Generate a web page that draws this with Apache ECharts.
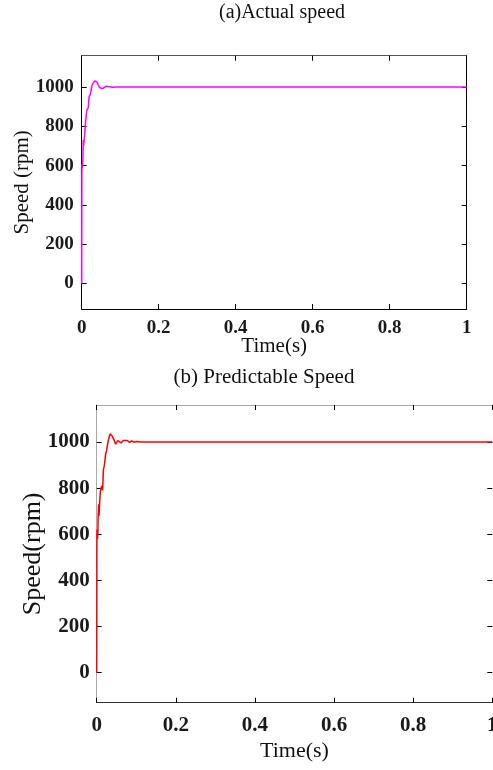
<!DOCTYPE html>
<html>
<head>
<meta charset="utf-8">
<script src="https://cdn.jsdelivr.net/npm/echarts@6/dist/echarts.min.js"></script>
<style>html,body{margin:0;padding:0;background:#fff;}#c{width:493px;height:770px;}</style>
</head>
<body>
<div id="c"></div>
<script>
// Panel (a): actual speed
var timeA  = [0, 0.0005, 0.001, 0.002, 0.003, 0.0035, 0.004, 0.005, 0.006, 0.008, 0.009, 0.010, 0.011, 0.013, 0.015, 0.017, 0.019, 0.021, 0.023, 0.026, 0.028, 0.031, 0.034, 0.037, 0.040, 0.043, 0.046, 0.050, 0.054, 0.058, 0.063, 0.068, 0.073, 0.080, 0.090, 1.0];
var speedA = [0, 560, 610, 590, 620, 670, 730, 700, 720, 760, 800, 790, 800, 880, 890, 895, 950, 960, 965, 1000, 1015, 1020, 1032, 1032, 1025, 1010, 998, 991, 992, 999, 1004, 1005, 1002, 999, 1000, 1000];
// Panel (b): predictable speed
var timeB  = [0, 0.0005, 0.001, 0.002, 0.003, 0.0035, 0.005, 0.006, 0.007, 0.009, 0.011, 0.013, 0.015, 0.017, 0.019, 0.021, 0.023, 0.025, 0.027, 0.029, 0.031, 0.034, 0.036, 0.039, 0.041, 0.044, 0.048, 0.053, 0.057, 0.0615, 0.0675, 0.0715, 0.0775, 0.083, 0.0885, 0.0945, 0.101, 0.110, 1.0];
var speedB = [0, 570, 620, 580, 610, 670, 730, 680, 720, 780, 800, 810, 790, 880, 895, 890, 950, 962, 960, 1005, 1012, 1035, 1033, 1026, 1028, 1008, 990, 1006, 1013, 996, 1006, 998, 1006, 998, 1004, 999, 1002, 1000, 1000];
// Axes
var xTicks = [0, 0.2, 0.4, 0.6, 0.8, 1];
var yTicks = [0, 200, 400, 600, 800, 1000];
var titleA = '(a)Actual speed';
var titleB = '(b) Predictable Speed';
var xName = 'Time(s)';
var yNameA = 'Speed (rpm)';
var yNameB = 'Speed(rpm)';

function pairs(t, v){ return t.map(function(x,i){ return [x, v[i]]; }); }
var serif = 'Liberation Serif';
function xFmt(v){ return (v === 0 || v === 1) ? String(v) : v.toFixed(1); }
function yFmt(v){ return String(v); }

function xAxisMain(grid, fs, lineColor, margin, nameGap, nameSize){
  return {
    type:'value', gridIndex:grid, position:'bottom', min:0, max:1, interval:0.2,
    name:xName, nameLocation:'middle', nameGap:nameGap, nameMoveOverlap:false,
    nameTextStyle:{fontFamily:serif, fontSize:nameSize, color:'#111'},
    axisLine:{show:true, onZero:false, lineStyle:{color:lineColor, width:1}},
    axisTick:{show:true, inside:true, length:5, lineStyle:{color:'#000'}},
    axisLabel:{fontFamily:serif, fontWeight:'bold', fontSize:fs, color:'#1a1a1a', margin:margin, formatter:xFmt},
    splitLine:{show:false}
  };
}
function xAxisTop(grid, lineColor){
  return {
    type:'value', gridIndex:grid, position:'top', min:0, max:1, interval:0.2,
    axisLine:{show:true, onZero:false, lineStyle:{color:lineColor, width:1}},
    axisTick:{show:true, inside:true, length:5, lineStyle:{color:'#000'}},
    axisLabel:{show:false}, splitLine:{show:false}
  };
}
function yAxisMain(grid, fs, lineColor, margin, name, nameGap, nameSize){
  return {
    type:'value', gridIndex:grid, position:'left', min:-130, max:1160,
    name:name, nameLocation:'middle', nameGap:nameGap, nameMoveOverlap:false,
    nameTextStyle:{fontFamily:serif, fontSize:nameSize, color:'#111'},
    axisLine:{show:true, onZero:false, lineStyle:{color:lineColor, width:1}},
    axisTick:{show:true, inside:true, length:5, customValues:yTicks, lineStyle:{color:'#000'}},
    axisLabel:{fontFamily:serif, fontWeight:'bold', fontSize:fs, color:'#1a1a1a', margin:margin, customValues:yTicks, formatter:yFmt},
    splitLine:{show:false}
  };
}
function yAxisRight(grid, showLine){
  return {
    type:'value', gridIndex:grid, position:'right', min:-130, max:1160,
    axisLine:{show:showLine, onZero:false, lineStyle:{color:'#000', width:1}},
    axisTick:{show:true, inside:true, length:5, customValues:yTicks, lineStyle:{color:'#000'}},
    axisLabel:{show:false, customValues:yTicks}, splitLine:{show:false}
  };
}

var chart = echarts.init(document.getElementById('c'));
chart.setOption({
  animation:false,
  backgroundColor:'#fff',
  grid:[
    {left:81.7, top:55.7, width:385, height:253.3, containLabel:false, outerBoundsMode:'none'},
    {left:96.7, top:405, width:395.6, height:297.7, containLabel:false, outerBoundsMode:'none'}
  ],
  graphic:[
    {type:'text', x:282, y:13, style:{text:titleA, fontFamily:serif, fontSize:20, fill:'#111', textAlign:'center', textVerticalAlign:'middle'}},
    {type:'text', x:264, y:377, style:{text:titleB, fontFamily:serif, fontSize:21, fill:'#111', textAlign:'center', textVerticalAlign:'middle'}}
  ],
  xAxis:[
    xAxisMain(0, 19, '#000', 10, 27, 21),
    xAxisTop(0, '#555'),
    xAxisMain(1, 21, '#333', 12, 38, 22),
    xAxisTop(1, '#aaa')
  ],
  yAxis:[
    yAxisMain(0, 19, '#000', 8, yNameA, 49, 21),
    yAxisRight(0, true),
    yAxisMain(1, 21, '#aaa', 7, yNameB, 51, 26),
    yAxisRight(1, false)
  ],
  series:[
    {type:'line', xAxisIndex:0, yAxisIndex:0, data:pairs(timeA, speedA), showSymbol:false, lineStyle:{color:'#ff00ff', width:1.5}},
    {type:'line', xAxisIndex:2, yAxisIndex:2, data:pairs(timeB, speedB), showSymbol:false, lineStyle:{color:'#ff0000', width:1.5}}
  ]
});
</script>
</body>
</html>
